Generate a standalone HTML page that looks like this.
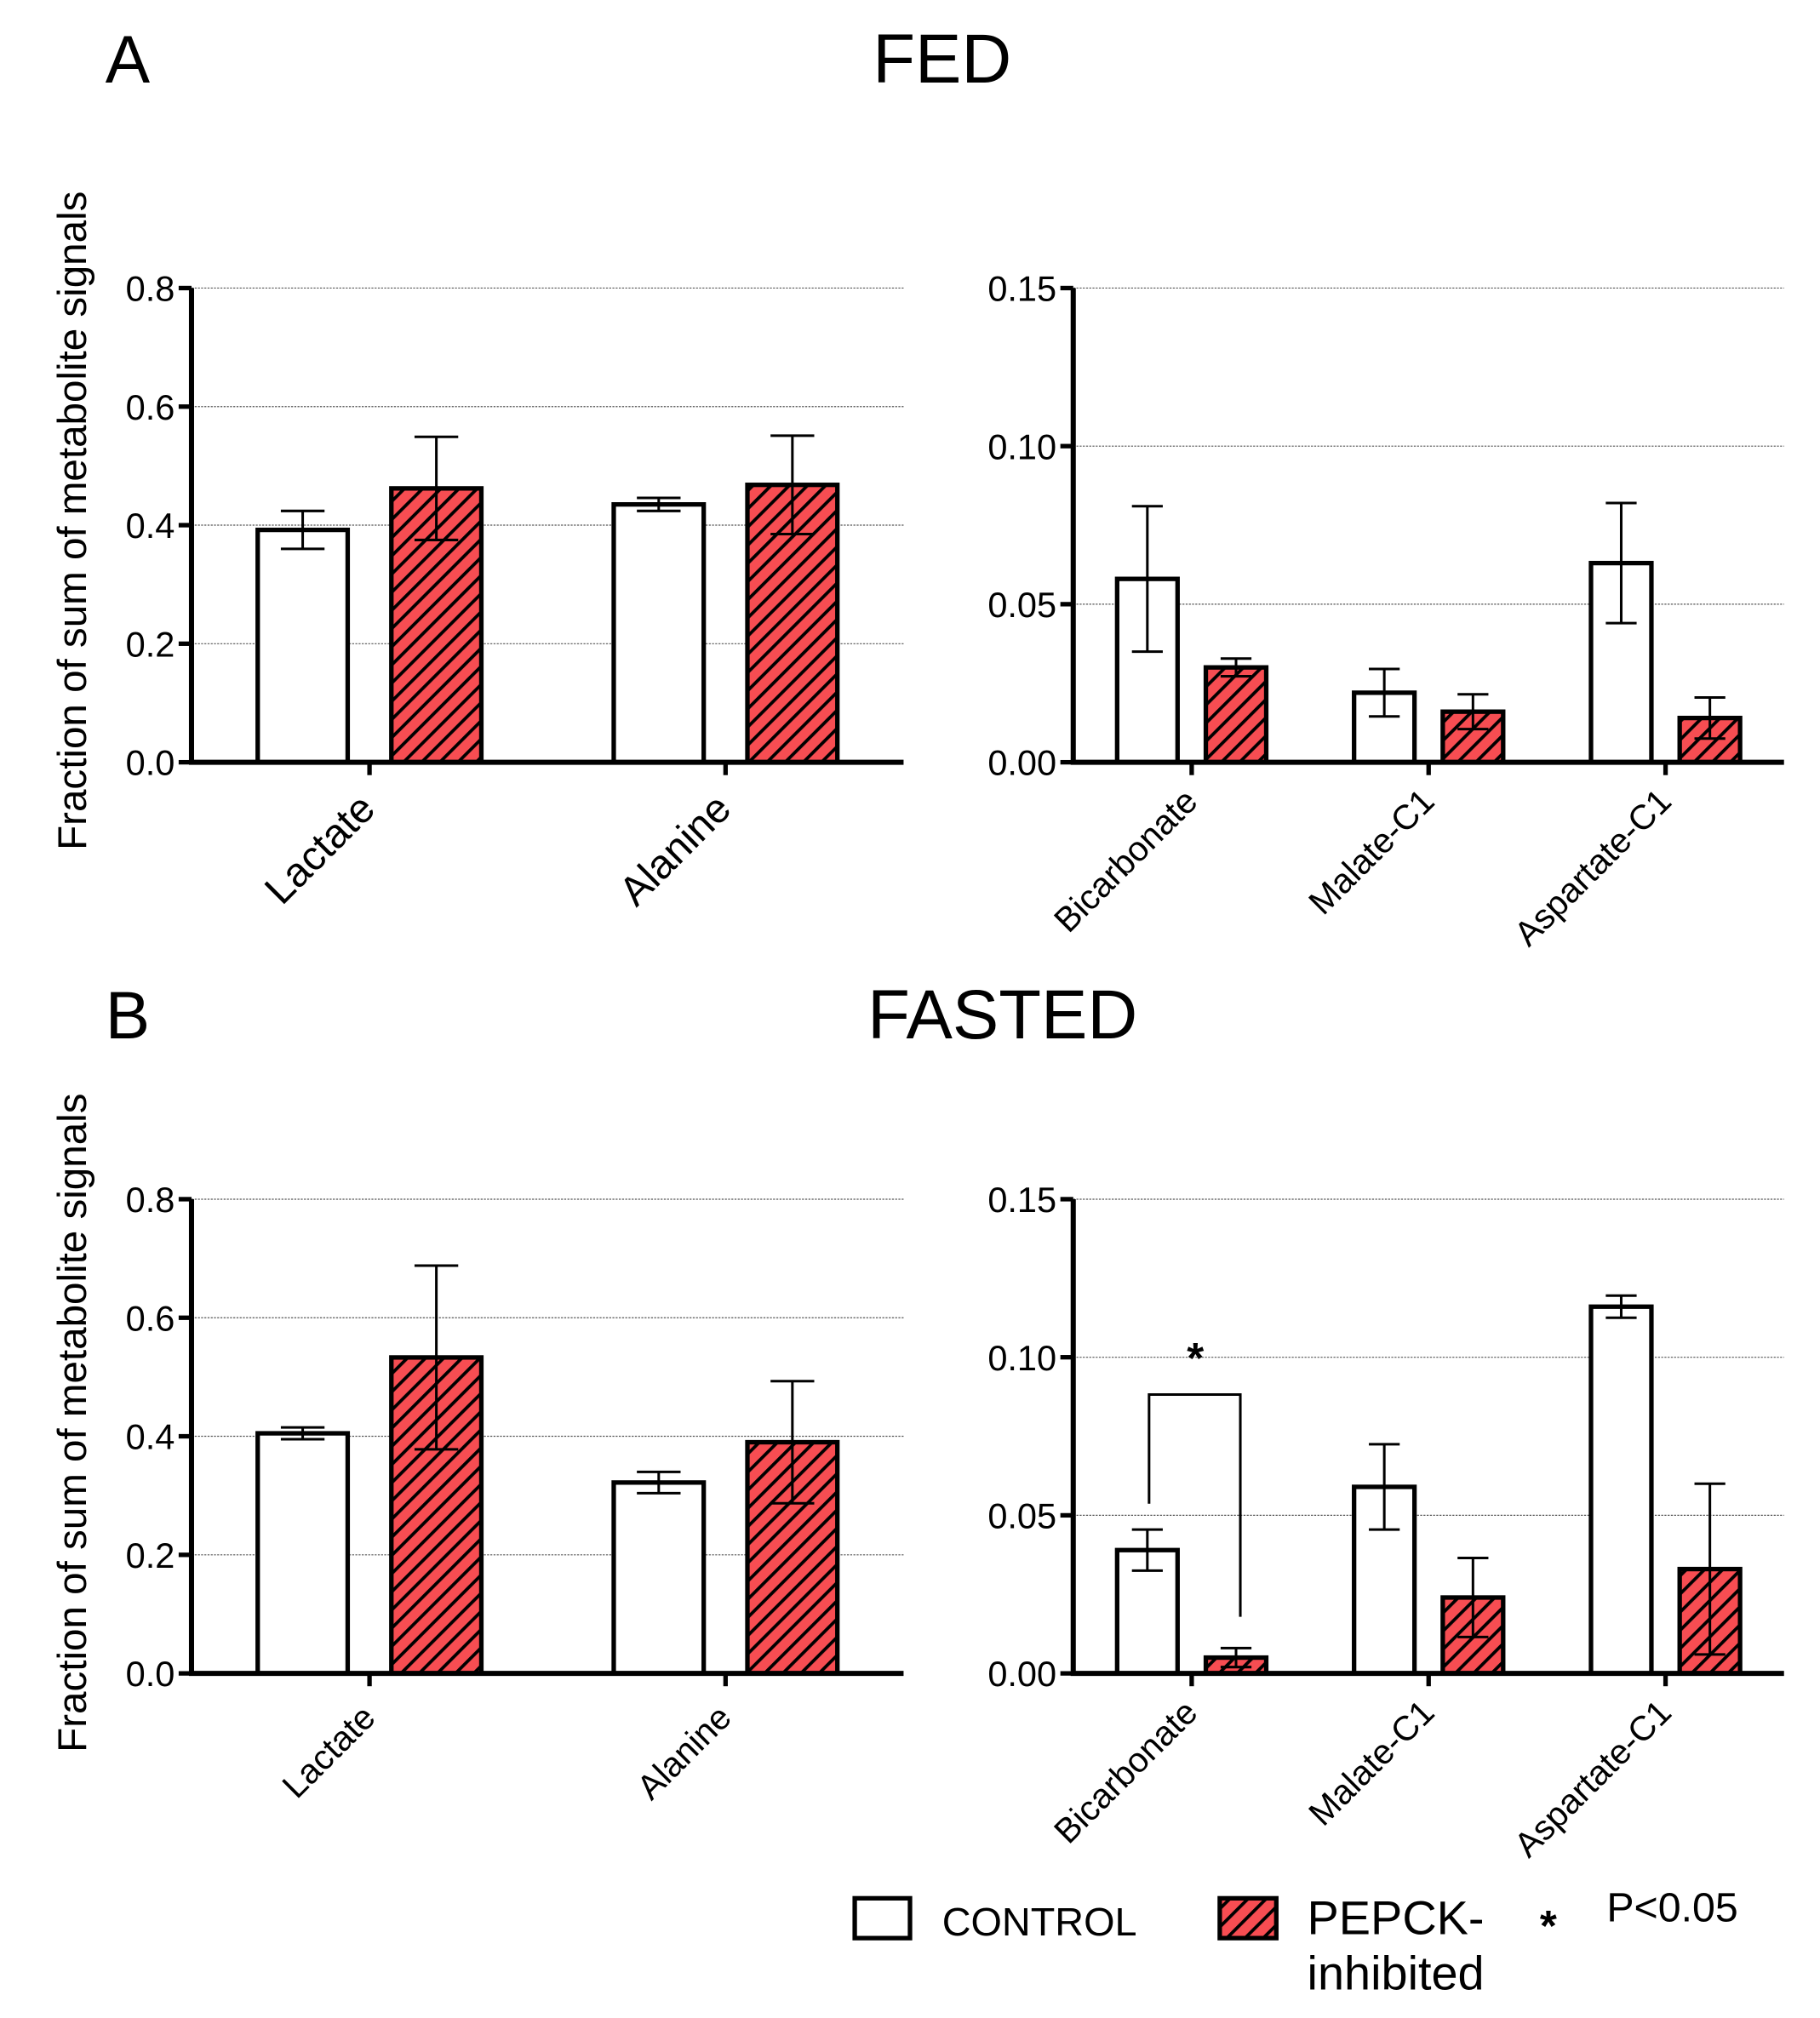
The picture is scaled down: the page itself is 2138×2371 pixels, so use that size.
<!DOCTYPE html>
<html><head><meta charset="utf-8"><style>
html,body{margin:0;padding:0;background:#fff}
svg{display:block}
text{font-family:"Liberation Sans",sans-serif;fill:#000}
</style></head><body>
<svg id="fig" width="2138" height="2371" viewBox="0 0 1416 1570" xmlns="http://www.w3.org/2000/svg">
<defs>
<pattern id="hatch" patternUnits="userSpaceOnUse" width="10" height="10" patternTransform="rotate(45)">
<rect width="10" height="10" fill="#f74d52"/>
<line x1="0" y1="0" x2="0" y2="10" stroke="#000" stroke-width="5"/>
</pattern>
</defs>
<text x="82" y="64" font-size="52">A</text>
<text x="733" y="64" font-size="54" text-anchor="middle">FED</text>
<text x="82" y="808" font-size="52">B</text>
<text x="780" y="808" font-size="54" text-anchor="middle">FASTED</text>
<text transform="translate(67,405) rotate(-90)" font-size="31.5" text-anchor="middle">Fraction of sum of metabolite signals</text>
<text transform="translate(67,1107) rotate(-90)" font-size="31.5" text-anchor="middle">Fraction of sum of metabolite signals</text>
<g>
<rect x="665" y="1477" width="43" height="31" fill="#fff" stroke="#000" stroke-width="3.5"/>
<text x="733" y="1506" font-size="31">CONTROL</text>
<rect x="949" y="1477" width="44" height="31" fill="url(#hatch)" stroke="#000" stroke-width="3.5"/>
<text x="1017" y="1505" font-size="37">PEPCK-</text>
<text x="1017" y="1548" font-size="37">inhibited</text>
<text x="1198" y="1510" font-size="34" font-weight="bold">*</text>
<text x="1250" y="1495" font-size="32">P&lt;0.05</text>
</g>
</svg>
<script>
// Panel A left (FED, Lactate/Alanine)
const catsBig = ["Lactate","Alanine"];
const fedBigCtrl = [0.392, 0.435];
const fedBigCtrlErr = [0.032, 0.011];
const fedBigInh = [0.462, 0.468];
const fedBigInhErr = [0.087, 0.083];
// Panel A right
const catsSmall = ["Bicarbonate","Malate-C1","Aspartate-C1"];
const fedSmCtrl = [0.058, 0.022, 0.063];
const fedSmCtrlErr = [0.023, 0.0075, 0.019];
const fedSmInh = [0.030, 0.016, 0.014];
const fedSmInhErr = [0.0028, 0.0055, 0.0065];
// Panel B left
const fastBigCtrl = [0.405, 0.322];
const fastBigCtrlErr = [0.010, 0.018];
const fastBigInh = [0.533, 0.390];
const fastBigInhErr = [0.155, 0.103];
// Panel B right
const fastSmCtrl = [0.039, 0.059, 0.116];
const fastSmCtrlErr = [0.0065, 0.0135, 0.0035];
const fastSmInh = [0.005, 0.024, 0.033];
const fastSmInhErr = [0.003, 0.0125, 0.027];
const bigTicks = ["0.0","0.2","0.4","0.6","0.8"];
const smallTicks = ["0.00","0.05","0.10","0.15"];

const NS="http://www.w3.org/2000/svg";
const svg=document.getElementById('fig');
function mk(tag,attrs,parent){const e=document.createElementNS(NS,tag);for(const k in attrs)e.setAttribute(k,attrs[k]);(parent||svg).appendChild(e);return e;}

function panel(o){
  const g=mk('g',{});
  
  
  const y=v=>o.y0-(v/o.max)*(o.y0-o.yTop);
  o.ticks.forEach(t=>{
    const v=parseFloat(t), yy=y(v);
    if(v>0){const gl=mk('line',{x1:o.x0,x2:o.x1,y1:yy,y2:yy,stroke:'#555','stroke-width':0.8,'stroke-dasharray':'1.5,1'},g);
      
      }
    const tk=mk('line',{x1:o.x0-10,x2:o.x0,y1:yy,y2:yy,stroke:'#000','stroke-width':3.5},g);
    
    
    const tl=mk('text',{x:o.x0-13,y:yy+10,'font-size':27.5,'text-anchor':'end'},g);
    tl.textContent=t;
    
    
  });
  const n=o.cats.length, band=(o.x1-o.x0)/n;
  o.cats.forEach((c,i)=>{
    const cx=o.x0+band*(i+0.5);
    const bars=[[o.ctrl[i],o.ctrlErr[i],'#fff',-1],[o.inh[i],o.inhErr[i],'url(#hatch)',1]];
    bars.forEach(([v,e,fill,side],j)=>{
      const bx = side<0 ? cx-o.gap-o.bw : cx+o.gap;
      const r=mk('rect',{x:bx,y:y(v),width:o.bw,height:o.y0-y(v),fill:fill,stroke:'#000','stroke-width':3.5},g);
      
      
      const mx=bx+o.bw/2;
      const eb=mk('path',{d:`M${mx} ${y(v-e)}V${y(v+e)}M${mx-o.cap} ${y(v+e)}H${mx+o.cap}M${mx-o.cap} ${y(v-e)}H${mx+o.cap}`,stroke:'#000','stroke-width':2,fill:'none'},g);
      
      
    });
    const xt=mk('line',{x1:cx,x2:cx,y1:o.y0,y2:o.y0+10,stroke:'#000','stroke-width':3.5},g);
    
    
    const lb=mk('text',{transform:`translate(${cx+6},${o.y0+o.ly}) rotate(-45)`,'font-size':o.lfs,'text-anchor':'end'},g);
    lb.textContent=c;
    
    
  });
  const ax=mk('path',{d:`M${o.x0} ${o.yTop}V${o.y0}H${o.x1}`,stroke:'#000','stroke-width':4,fill:'none'},g);
  
  
  return y;
}
panel({name:'fed-left-chart',x0:149,x1:703,yTop:224,y0:593,max:0.8,ticks:bigTicks,cats:catsBig,ctrl:fedBigCtrl,ctrlErr:fedBigCtrlErr,inh:fedBigInh,inhErr:fedBigInhErr,bw:70,gap:17,cap:17,lfs:32,ly:38});
panel({name:'fed-right-chart',x0:835,x1:1388,yTop:224,y0:593,max:0.15,ticks:smallTicks,cats:catsSmall,ctrl:fedSmCtrl,ctrlErr:fedSmCtrlErr,inh:fedSmInh,inhErr:fedSmInhErr,bw:47,gap:11,cap:12,lfs:27,ly:32});
panel({name:'fasted-left-chart',x0:149,x1:703,yTop:933,y0:1302,max:0.8,ticks:bigTicks,cats:catsBig,ctrl:fastBigCtrl,ctrlErr:fastBigCtrlErr,inh:fastBigInh,inhErr:fastBigInhErr,bw:70,gap:17,cap:17,lfs:27,ly:36});
panel({name:'fasted-right-chart',x0:835,x1:1388,yTop:933,y0:1302,max:0.15,ticks:smallTicks,cats:catsSmall,ctrl:fastSmCtrl,ctrlErr:fastSmCtrlErr,inh:fastSmInh,inhErr:fastSmInhErr,bw:47,gap:11,cap:12,lfs:27,ly:32});
const br=mk('path',{d:'M894 1170V1085H965V1258',stroke:'#000','stroke-width':2,fill:'none'});


const st=mk('text',{x:930,y:1068,'font-size':34,'font-weight':'bold','text-anchor':'middle'});
st.textContent='*';


</script>
</body></html>
